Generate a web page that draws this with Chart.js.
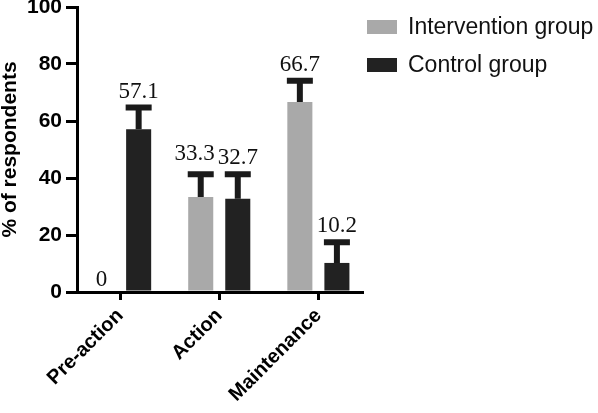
<!DOCTYPE html>
<html>
<head>
<meta charset="utf-8">
<script src="https://cdn.jsdelivr.net/npm/chart.js@4.4.1/dist/chart.umd.min.js"></script>
<style>
  html, body { margin: 0; padding: 0; background: #fff; }
  #wrap { width: 598px; height: 413px; }
</style>
</head>
<body>
<div id="wrap"><canvas id="stageChart" width="598" height="413"></canvas></div>
<script>
// dados
const categories = ['Pre-action', 'Action', 'Maintenance'];
const interventionValues = [0, 33.3, 66.7];
const controlValues = [57.1, 32.7, 10.2];
// tamanho da barra de erro (só a parte de cima)
const interventionErrors = [0, 8.0, 7.4];
const controlErrors = [7.6, 8.6, 7.3];
const yTicks = [0, 20, 40, 60, 80, 100];

const grayColor = '#a9a9a9';
const darkColor = '#222222';

// barras de erro + rótulos de valor
const errorBarPlugin = {
  id: 'errorBars',
  afterDatasetsDraw(chart) {
    const ctx = chart.ctx;
    const yScale = chart.scales.y;
    const labels = [];
    ctx.save();
    chart.data.datasets.forEach((ds, di) => {
      const meta = chart.getDatasetMeta(di);
      meta.data.forEach((bar, i) => {
        const value = ds.data[i];
        const err = ds.errors[i];
        let top = bar.y;
        if (err > 0) {
          top = yScale.getPixelForValue(value + err);
          ctx.strokeStyle = '#1a1a1a';
          ctx.lineWidth = 6;
          ctx.lineCap = 'butt';
          ctx.beginPath();
          ctx.moveTo(bar.x, bar.y);
          ctx.lineTo(bar.x, top);
          ctx.moveTo(bar.x - 13, top);
          ctx.lineTo(bar.x + 13, top);
          ctx.stroke();
        }
        labels.push({ di, i, text: String(value), x: bar.x, y: top - (err > 0 ? 10 : 6) });
      });
    });

    ctx.fillStyle = '#111';
    ctx.font = '23px "Liberation Serif", "Times New Roman", serif';
    ctx.textAlign = 'center';
    ctx.textBaseline = 'alphabetic';
    // se os dois rótulos do mesmo grupo se encostam, empurra o primeiro pra esquerda
    labels.forEach(a => {
      const b = labels.find(l => l.i === a.i && l.di === a.di + 1);
      if (!b) return;
      const wa = ctx.measureText(a.text).width;
      const wb = ctx.measureText(b.text).width;
      const overlap = (a.x + wa / 2) - (b.x - wb / 2) + 3;
      if (overlap > 0 && Math.abs(a.y - b.y) < 20) {
        a.x -= overlap;
        a.y -= 4;
      }
    });
    labels.forEach(l => ctx.fillText(l.text, l.x, l.y));
    ctx.restore();
  }
};

// legenda desenhada à mão pra ficar no lugar certo
const sideLegendPlugin = {
  id: 'sideLegend',
  afterDraw(chart) {
    const ctx = chart.ctx;
    ctx.save();
    chart.data.datasets.forEach((ds, i) => {
      const y = 27 + i * 38;
      ctx.fillStyle = ds.backgroundColor;
      ctx.fillRect(367, y - 7, 30, 14);
      ctx.fillStyle = '#111';
      ctx.font = '23px "Liberation Sans", Arial, sans-serif';
      ctx.textAlign = 'left';
      ctx.textBaseline = 'middle';
      ctx.fillText(ds.label, 408, y + 1);
    });
    ctx.restore();
  }
};

const ctx = document.getElementById('stageChart').getContext('2d');
new Chart(ctx, {
  type: 'bar',
  data: {
    labels: categories.map((c, i) => i),
    datasets: [
      {
        label: 'Intervention group',
        data: interventionValues,
        errors: interventionErrors,
        backgroundColor: grayColor,
        categoryPercentage: 0.7475,
        barPercentage: 0.676
      },
      {
        label: 'Control group',
        data: controlValues,
        errors: controlErrors,
        backgroundColor: darkColor,
        categoryPercentage: 0.7475,
        barPercentage: 0.676
      }
    ]
  },
  options: {
    responsive: false,
    animation: false,
    layout: { padding: { left: 0, top: 7, right: 236, bottom: 0 } },
    plugins: {
      legend: { display: false },
      tooltip: { enabled: false }
    },
    scales: {
      x: {
        type: 'linear',
        min: -0.435,
        max: 2.44,
        offset: false,
        border: { display: true, color: '#000', width: 3 },
        grid: { display: true, offset: false, drawOnChartArea: false, drawTicks: true, tickLength: 8, color: '#000', lineWidth: 3 },
        ticks: {
          stepSize: 1,
          includeBounds: false,
          autoSkip: false,
          minRotation: 45,
          maxRotation: 45,
          padding: 4,
          color: '#000',
          font: { family: '"Liberation Sans", Arial, sans-serif', size: 20, weight: 'bold' },
          callback: (v) => categories[v] !== undefined ? categories[v] : ''
        },
        afterFit(scale) {
          scale.height = 121;
          scale.paddingLeft = 0;
          scale.paddingRight = 0;
        }
      },
      y: {
        min: 0,
        max: 100,
        border: { display: true, color: '#000', width: 3 },
        grid: { display: true, drawOnChartArea: false, drawTicks: true, tickLength: 11, color: '#000', lineWidth: 3 },
        afterBuildTicks(scale) {
          scale.ticks = yTicks.map(v => ({ value: v }));
        },
        ticks: {
          padding: 4,
          color: '#000',
          font: { family: '"Liberation Sans", Arial, sans-serif', size: 21, weight: 'bold' }
        },
        title: {
          display: true,
          text: '% of respondents',
          color: '#000',
          padding: 0,
          font: { family: '"Liberation Sans", Arial, sans-serif', size: 21, weight: 'bold', lineHeight: 1 }
        },
        afterFit(scale) {
          scale.width = 77;
          scale.paddingTop = 0;
          scale.paddingBottom = 0;
        }
      }
    }
  },
  plugins: [errorBarPlugin, sideLegendPlugin]
});
</script>
</body>
</html>
